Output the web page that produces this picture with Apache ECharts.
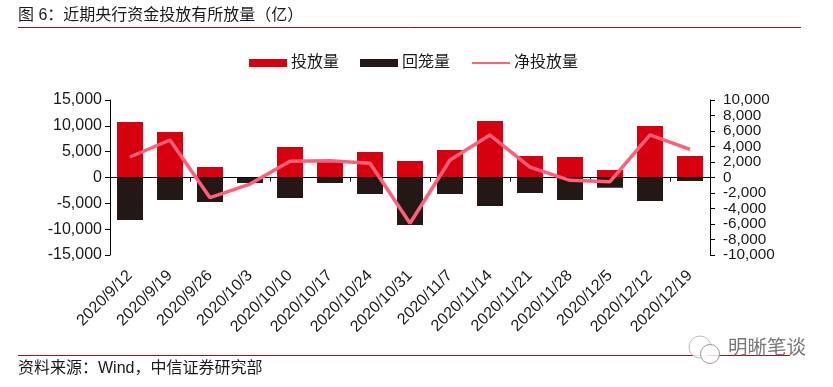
<!DOCTYPE html>
<html>
<head>
<meta charset="utf-8">
<style>
  html, body { margin: 0; padding: 0; background: #fff; }
  #chart { width: 833px; height: 387px; }
</style>
</head>
<body>
<div id="chart"></div>
<script src="https://cdn.jsdelivr.net/npm/echarts@6/dist/echarts.min.js"></script>
<script>
var categories = ['2020/9/12', '2020/9/19', '2020/9/26', '2020/10/3', '2020/10/10', '2020/10/17', '2020/10/24', '2020/10/31',
  '2020/11/7', '2020/11/14', '2020/11/21', '2020/11/28', '2020/12/5', '2020/12/12', '2020/12/19'];
var injection = [10740, 8800, 2030, 0, 5900, 3390, 4935, 3190, 5320, 10930, 4160, 3970, 1450, 9970, 4160];
var withdrawal = [-8225, -4350, -4740, -1060, -3970, -1060, -3190, -9190, -3190, -5520, -3000, -4350, -1980, -4550, -680];
var netInjection = [2645, 4840, -2600, -850, 2090, 2170, 1830, -5910, 2260, 5480, 1350, -360, -540, 5510, 3640];

var fontLatin = '"Liberation Sans", Arial, sans-serif';
var fontCjk = '"Liberation Sans", "Noto Sans CJK SC", sans-serif';
var textColor = '#1a1a1a';
var ruleColor = '#b01010';

var myChart = echarts.init(document.getElementById('chart'));

function tickFormatter(value) {
  return value.toLocaleString('en-US');
}

var option = {
  animation: false,
  backgroundColor: '#fff',
  grid: { left: 110, right: 123, top: 100, height: 155 },
  legend: {
    top: 55,
    left: 249,
    padding: 0,
    itemWidth: 38,
    itemHeight: 8,
    itemGap: 21,
    textStyle: { fontFamily: fontCjk, fontSize: 16, color: textColor, padding: [0, 0, 0, -1] },
    data: [
      { name: '投放量', icon: 'rect' },
      { name: '回笼量', icon: 'rect' },
      { name: '净投放量', itemStyle: { opacity: 0 } },
    ],
  },
  xAxis: [
    {
      // 下方的日期标签
      type: 'category',
      data: categories,
      position: 'bottom',
      axisLine: { show: false, onZero: false },
      axisTick: { show: false },
      axisLabel: {
        interval: 0,
        rotate: 45,
        margin: 18,
        fontFamily: fontLatin,
        fontSize: 16,
        color: textColor,
      },
    },
    {
      // 零轴和刻度
      type: 'category',
      data: categories,
      position: 'top',
      z: 5,
      axisLine: { onZero: true, lineStyle: { color: '#000', width: 1 } },
      axisTick: { show: true, inside: true, length: 4, lineStyle: { color: '#000' } },
      axisLabel: { show: false },
    },
  ],
  yAxis: [
    {
      type: 'value',
      min: -15000,
      max: 15000,
      interval: 5000,
      splitLine: { show: false },
      axisLine: { show: true, lineStyle: { color: '#000' } },
      axisTick: { show: true, length: 5, lineStyle: { color: '#000' } },
      axisLabel: {
        margin: 8,
        fontFamily: fontLatin,
        fontSize: 16,
        color: textColor,
        formatter: tickFormatter,
      },
    },
    {
      type: 'value',
      position: 'right',
      min: -10000,
      max: 10000,
      interval: 2000,
      splitLine: { show: false },
      axisLine: { show: true, lineStyle: { color: '#000' } },
      axisTick: { show: true, length: 5, lineStyle: { color: '#000' } },
      axisLabel: {
        margin: 13,
        showMinLabel: true,
        showMaxLabel: true,
        fontFamily: fontLatin,
        fontSize: 15.3,
        color: textColor,
        formatter: tickFormatter,
      },
    },
  ],
  series: [
    {
      name: '投放量',
      type: 'bar',
      barWidth: 26,
      barGap: '-100%',
      itemStyle: { color: '#d7000f' },
      data: injection,
    },
    {
      name: '回笼量',
      type: 'bar',
      barWidth: 26,
      barGap: '-100%',
      itemStyle: { color: '#231815' },
      data: withdrawal,
    },
    {
      name: '净投放量',
      type: 'line',
      yAxisIndex: 1,
      symbol: 'none',
      z: 10,
      lineStyle: { color: '#ff5f78', width: 3.5 },
      itemStyle: { color: '#ff5f78' },
      data: netInjection,
    },
  ],
  graphic: [
    {
      type: 'text',
      left: 18,
      top: 8,
      style: { text: '图 6：近期央行资金投放有所放量（亿）', fontFamily: fontCjk, fontSize: 16, fill: textColor },
    },
    { type: 'line', shape: { x1: 18, y1: 27.5, x2: 801, y2: 27.5 }, style: { stroke: ruleColor, lineWidth: 1 } },
    { type: 'line', shape: { x1: 18, y1: 355.5, x2: 790, y2: 355.5 }, style: { stroke: ruleColor, lineWidth: 1 } },
    {
      type: 'text',
      left: 18,
      top: 361,
      style: { text: '资料来源：Wind，中信证券研究部', fontFamily: fontCjk, fontSize: 16, fill: textColor },
    },
    // 水印
    { type: 'circle', shape: { cx: 700, cy: 347, r: 11 }, style: { fill: 'rgba(255,255,255,0.85)', stroke: '#bbb', lineWidth: 1 } },
    { type: 'circle', shape: { cx: 710, cy: 354, r: 9.5 }, style: { fill: 'rgba(255,255,255,0.85)', stroke: '#999', lineWidth: 1 } },
    {
      type: 'text',
      left: 728,
      top: 339,
      style: { text: '明晰笔谈', fontFamily: fontCjk, fontSize: 19.5, fill: '#777' },
    },
  ],
};
myChart.setOption(option, true);
</script>
</body>
</html>
